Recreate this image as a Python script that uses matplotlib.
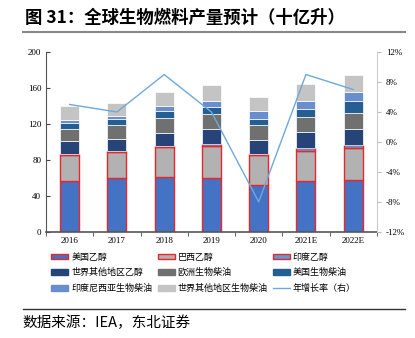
import matplotlib.pyplot as plt
from matplotlib.patches import Patch
from matplotlib.lines import Line2D
import numpy as np

plt.rcParams['font.family'] = ['Liberation Serif', 'Noto Sans CJK SC', 'DejaVu Sans']

years = ["2016", "2017", "2018", "2019", "2020", "2021E", "2022E"]

us_ethanol = [57, 60, 61, 60, 52, 57, 57.5]
brazil_ethanol = [29, 28.5, 33, 35, 33.5, 33, 35.5]
india_ethanol = [1, 1, 1.5, 2.5, 1, 3, 3.3]
row_ethanol = [14.5, 14.2, 14.9, 16.9, 16.1, 17.7, 17.6]
eu_biodiesel = [13.3, 14.8, 16.3, 16.3, 15.9, 17.1, 18.0]
us_biodiesel = [6.5, 7.5, 8.1, 8.6, 7.5, 9.2, 14.0]
indo_biodiesel = [3.1, 3.3, 5.6, 6.6, 8.4, 8.2, 9.8]
row_biodiesel = [15.1, 14.0, 15.5, 17.1, 16.0, 18.9, 19.3]
growth = [5.0, 4.0, 9.0, 4.0, -8.0, 9.0, 7.0]

series = [
    ("美国乙醇", us_ethanol, "#4472C4", "#E8262B"),
    ("巴西乙醇", brazil_ethanol, "#B2B2B2", "#E8262B"),
    ("印度乙醇", india_ethanol, "#5B9BD5", "#E8262B"),
    ("世界其他地区乙醇", row_ethanol, "#264478", "#FFFFFF"),
    ("欧洲生物柴油", eu_biodiesel, "#707070", "#FFFFFF"),
    ("美国生物柴油", us_biodiesel, "#255E91", "#FFFFFF"),
    ("印度尼西亚生物柴油", indo_biodiesel, "#698ED0", "#FFFFFF"),
    ("世界其他地区生物柴油", row_biodiesel, "#C4C4C4", "#FFFFFF"),
]

fig = plt.figure(figsize=(4.15, 3.38), dpi=100)
ax = fig.add_axes([0.111, 0.314, 0.797, 0.532])

x = np.arange(len(years))
bottom = np.zeros(len(years))
for name, vals, color, edge in series:
    lw = 1.0 if edge != "#FFFFFF" else 0.5
    ax.bar(x, vals, 0.4, bottom=bottom, color=color, edgecolor=edge, linewidth=lw, zorder=2)
    bottom += np.array(vals)

ax.set_ylim(0, 200)
ax.set_yticks(range(0, 201, 40))
ax.set_xlim(-0.5, len(years) - 0.5)
ax.set_xticks(x)
ax.set_xticklabels(years)
ax.set_xticks(np.arange(-0.5, len(years), 1), minor=True)
ax.tick_params(axis='x', which='major', length=0, labelsize=6.5, pad=4)
ax.tick_params(axis='x', which='minor', length=3, direction='out', color='#444444')
ax.tick_params(axis='y', labelsize=6.5, length=3, direction='in', color='#444444')
ax.spines['top'].set_visible(False)
ax.spines['right'].set_visible(False)
ax.spines['left'].set_color('#555555')
ax.spines['bottom'].set_color('#555555')
ax.spines['bottom'].set_linewidth(1.2)

ax2 = ax.twinx()
ax2.plot(x, growth, color="#6FA8DC", lw=1.0, zorder=3)
ax2.set_ylim(-12, 12)
ax2.set_yticks(range(-12, 13, 4))
ax2.set_yticklabels([f"{v}%" for v in range(-12, 13, 4)])
ax2.tick_params(axis='y', labelsize=6.5, length=3, direction='out', color='#BBBBBB')
ax2.spines['right'].set_color('#CCCCCC')
for s in ['top', 'left', 'bottom']:
    ax2.spines[s].set_visible(False)

# legend, filled row by row
handles = [Patch(facecolor=c, edgecolor=e if e != "#FFFFFF" else c, linewidth=1.0, label=n)
           for n, v, c, e in series]
handles.append(Line2D([0], [0], color="#6FA8DC", lw=1.0, label="年增长率（右）"))
order = [0, 3, 6, 1, 4, 7, 2, 5, 8]
handles = [handles[i] for i in order]
fig.legend(handles=handles, ncol=3, loc='upper left', bbox_to_anchor=(0.115, 0.263),
           frameon=False, prop={'family': 'Noto Sans CJK SC', 'size': 6.5},
           handlelength=1.9, handleheight=0.6, handletextpad=0.3,
           columnspacing=0.6, labelspacing=0.72, borderaxespad=0)

# title, rules and source
fig.text(0.06, 0.947, "图 31：全球生物燃料产量预计（十亿升）", fontsize=12.5, fontweight='bold',
         family='Noto Sans CJK SC', va='center')
fig.add_artist(Line2D([0.055, 0.976], [0.906, 0.906], color='#888888', lw=1.5))
fig.add_artist(Line2D([0.055, 0.976], [0.086, 0.086], color='#333333', lw=1.0))
fig.text(0.055, 0.045, "数据来源：IEA，东北证券", fontsize=10.5, family='Noto Sans CJK SC', va='center')

fig.savefig("out.png", dpi=100)
